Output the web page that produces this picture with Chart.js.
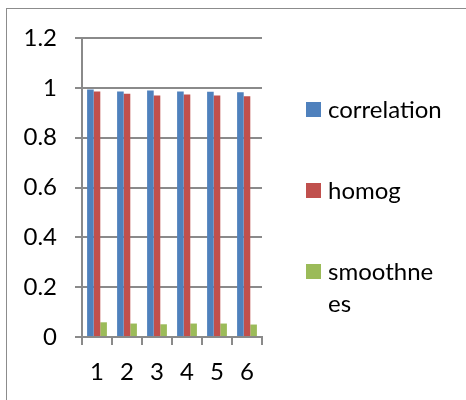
<!DOCTYPE html>
<html>
<head>
<meta charset="utf-8">
<script src="https://cdn.jsdelivr.net/npm/chart.js@4"></script>
<style>
  body { margin: 0; background: #fff; width: 466px; height: 400px; overflow: hidden; position: relative; font-family: Lato, "Open Sans", sans-serif; }
  #frame { position: absolute; left: 6px; top: 8px; width: 470px; height: 400px; border: 1px solid #8c8c8c; }
  #myChart1 { position: absolute; left: 0; top: 0; }
  #legend { position: absolute; left: 306px; top: 0; }
  .item { position: absolute; left: 0; width: 160px; font-size: 24px; color: #000; line-height: 32px; }
  .box { position: absolute; left: 0; top: 9px; width: 15px; height: 15px; }
  .txt { position: absolute; left: 22px; top: 0; white-space: pre; }
</style>
</head>
<body>
<div id="frame"></div>
<canvas id="myChart1" width="466" height="400"></canvas>
<div id="legend"></div>
<script>
const categories = ["1", "2", "3", "4", "5", "6"];
const correlation = [0.993, 0.985, 0.989, 0.985, 0.984, 0.982];
const homog = [0.985, 0.976, 0.969, 0.973, 0.969, 0.966];
const smoothnes = [0.059, 0.054, 0.051, 0.054, 0.054, 0.050];
const seriesNames = ["correlation", "homog", "smoothnes"];
// asi se ve la leyenda en la imagen (la ultima partida en dos lineas)
const legendLabels = ["correlation", "homog", "smoothne\nes"];
const colors = ["#4f81bd", "#c0504d", "#9bbb59"];

const ctx = document.getElementById("myChart1").getContext("2d");
const font = { family: "Lato, 'Open Sans', sans-serif", size: 24 };
const gridColor = "#8a8a8a";

const data = {
  labels: categories,
  datasets: [correlation, homog, smoothnes].map((vals, i) => ({
    label: seriesNames[i],
    data: vals,
    backgroundColor: colors[i],
    borderWidth: 0,
    categoryPercentage: 0.66,
    barPercentage: 1,
  })),
};

const config = {
  type: "bar",
  data: data,
  options: {
    responsive: false,
    animation: false,
    layout: { padding: { top: 38, right: 204, left: 0, bottom: 0 } },
    scales: {
      x: {
        grid: { display: true, drawOnChartArea: false, color: gridColor, lineWidth: 2, tickLength: 8, offset: true },
        border: { color: gridColor, width: 2 },
        ticks: { color: "#000", font: font, padding: 13, maxRotation: 0 },
        afterFit: (axis) => { axis.height = 63; },
      },
      y: {
        min: 0,
        max: 1.2,
        ticks: {
          stepSize: 0.2,
          color: "#000",
          font: font,
          padding: 18,
          callback: (v) => String(Number(v.toFixed(1))), // 1 en vez de 1.0
        },
        grid: { color: gridColor, lineWidth: 2, tickLength: 7 },
        border: { color: gridColor, width: 2 },
        afterFit: (axis) => { axis.width = 82; },
      },
    },
    plugins: {
      legend: { display: false },
      tooltip: { enabled: false },
    },
  },
};

const myChart = new Chart(ctx, config);

// leyenda a la derecha
const legendTops = [93, 174, 255];
const legend = document.getElementById("legend");
legendLabels.forEach((name, i) => {
  const item = document.createElement("div");
  item.className = "item";
  item.style.top = legendTops[i] + "px";
  const box = document.createElement("span");
  box.className = "box";
  box.style.background = colors[i];
  const txt = document.createElement("span");
  txt.className = "txt";
  txt.textContent = name;
  item.appendChild(box);
  item.appendChild(txt);
  legend.appendChild(item);
});
</script>
</body>
</html>
